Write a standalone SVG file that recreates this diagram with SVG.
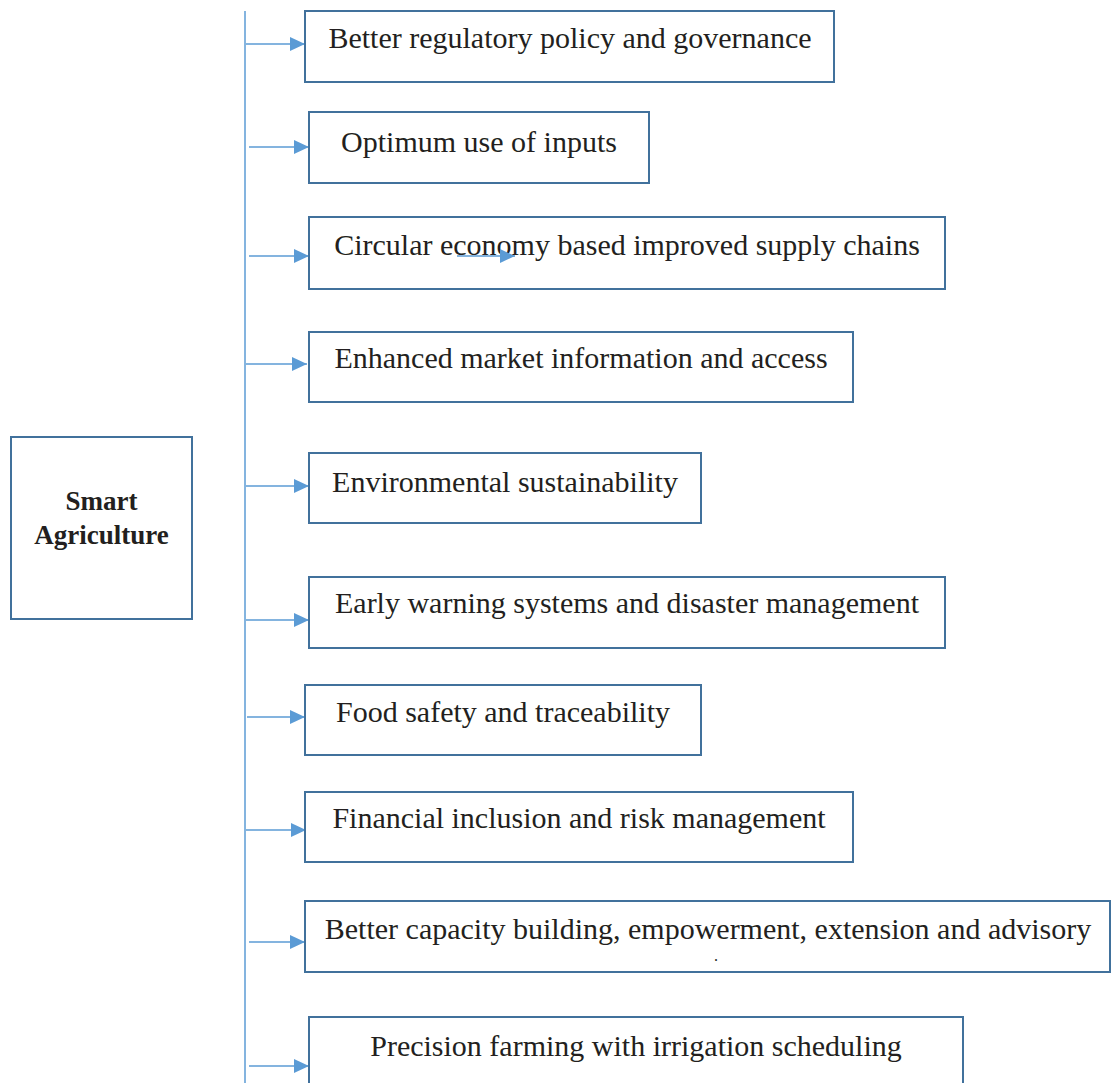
<svg xmlns="http://www.w3.org/2000/svg" width="1111" height="1083" viewBox="0 0 1111 1083">
<style>
.box{fill:#fff;stroke:#41719C;stroke-width:2}
.t{font-family:"Liberation Serif","Times New Roman",serif;font-size:30px;fill:#231F20;text-anchor:middle}
.tb{font-family:"Liberation Serif","Times New Roman",serif;font-size:27px;font-weight:bold;fill:#231F20;text-anchor:middle}
.c{stroke:#5B9BD5;stroke-width:1.5;fill:none}
</style>
<defs>
<marker id="ah" markerUnits="userSpaceOnUse" markerWidth="16" markerHeight="14" refX="15" refY="7" orient="auto">
<path d="M0,0 L15,7 L0,14 Z" fill="#5B9BD5"/>
</marker>
</defs>
<rect width="1111" height="1083" fill="#fff"/>
<g id="connectors">
<line class="c" x1="245" y1="11" x2="245" y2="1083"/>
<line class="c" x1="246" y1="44" x2="305" y2="44" marker-end="url(#ah)"/>
<line class="c" x1="249" y1="147" x2="309" y2="147" marker-end="url(#ah)"/>
<line class="c" x1="249" y1="256" x2="309" y2="256" marker-end="url(#ah)"/>
<line class="c" x1="246" y1="364" x2="307" y2="364" marker-end="url(#ah)"/>
<line class="c" x1="246" y1="486" x2="309" y2="486" marker-end="url(#ah)"/>
<line class="c" x1="246" y1="620" x2="309" y2="620" marker-end="url(#ah)"/>
<line class="c" x1="247" y1="717" x2="305" y2="717" marker-end="url(#ah)"/>
<line class="c" x1="246" y1="830" x2="306" y2="830" marker-end="url(#ah)"/>
<line class="c" x1="249" y1="942" x2="305" y2="942" marker-end="url(#ah)"/>
<line class="c" x1="249" y1="1066" x2="309" y2="1066" marker-end="url(#ah)"/>
</g>
<g id="smart-agriculture">
<rect class="box" x="11" y="437" width="181" height="182"/>
<text class="tb" x="101.5" y="510">Smart</text>
<text class="tb" x="101.5" y="544">Agriculture</text>
</g>
<g id="n1">
<rect class="box" x="305" y="11" width="529" height="71"/>
<text class="t" x="570" y="48">Better regulatory policy and governance</text>
</g>
<g id="n2">
<rect class="box" x="309" y="112" width="340" height="71"/>
<text class="t" x="479" y="152">Optimum use of inputs</text>
</g>
<g id="n3">
<rect class="box" x="309" y="217" width="636" height="72"/>
<text class="t" x="627" y="255">Circular economy based improved supply chains</text>
<line class="c" x1="457" y1="256" x2="515" y2="256" marker-end="url(#ah)"/>
</g>
<g id="n4">
<rect class="box" x="309" y="332" width="544" height="70"/>
<text class="t" x="581" y="368">Enhanced market information and access</text>
</g>
<g id="n5">
<rect class="box" x="309" y="453" width="392" height="70"/>
<text class="t" x="505" y="492">Environmental sustainability</text>
</g>
<g id="n6">
<rect class="box" x="309" y="577" width="636" height="71"/>
<text class="t" x="627" y="613">Early warning systems and disaster management</text>
</g>
<g id="n7">
<rect class="box" x="305" y="685" width="396" height="70"/>
<text class="t" x="503" y="722">Food safety and traceability</text>
</g>
<g id="n8">
<rect class="box" x="305" y="792" width="548" height="70"/>
<text class="t" x="579" y="828">Financial inclusion and risk management</text>
</g>
<g id="n9">
<rect class="box" x="305" y="901" width="805" height="71"/>
<text class="t" x="708" y="939">Better capacity building, empowerment, extension and advisory</text>
<text class="t" x="716" y="961" style="font-size:16px">.</text>
</g>
<g id="n10">
<rect class="box" x="309" y="1017" width="654" height="80"/>
<text class="t" x="636" y="1056">Precision farming with irrigation scheduling</text>
</g>
</svg>
